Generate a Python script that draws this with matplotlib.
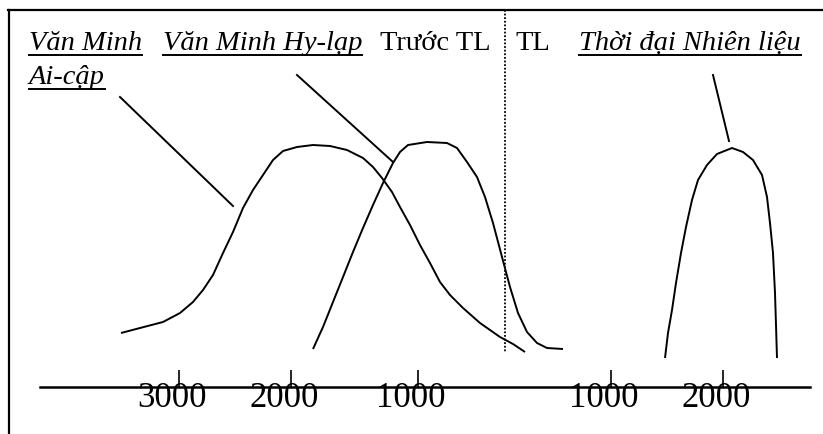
import matplotlib
matplotlib.use('Agg')
import matplotlib.pyplot as plt

plt.rcParams['font.family'] = ['Liberation Serif', 'DejaVu Serif']

# Đường cong (toạ độ trên hình vẽ tay, đơn vị pixel)
egypt_x = [121, 140, 163, 180, 193, 203, 213, 223, 233, 243, 253, 263, 273, 283, 297, 313,
           330, 347, 363, 373, 382, 392, 400, 410, 420, 430, 440, 450, 463, 480, 500, 513, 525]
egypt_y = [333, 328, 322, 313, 302, 290, 275, 253, 232, 208, 190, 175, 160, 151, 147, 145,
           146, 150, 158, 167, 178, 192, 207, 225, 245, 263, 282, 295, 308, 323, 337, 344, 352]

greek_x = [313, 323, 333, 343, 353, 363, 373, 383, 393, 400, 408, 427, 447, 457, 467, 477,
           485, 493, 502, 510, 518, 527, 537, 547, 563]
greek_y = [349, 327, 302, 277, 252, 228, 205, 183, 163, 152, 145, 142, 143, 148, 162, 177,
           197, 223, 257, 287, 313, 332, 343, 348, 349]

fuel_x = [665, 668, 672, 676, 681, 686, 692, 698, 707, 717, 732, 743, 753, 762, 767, 770,
          773, 775, 776, 777]
fuel_y = [358, 333, 310, 283, 253, 227, 200, 180, 165, 154, 148, 152, 160, 175, 197, 223,
          253, 293, 325, 358]

# Đường chỉ dẫn từ nhãn tới đường cong
leaders = [((120, 233), (97, 206)),
           ((297, 393), (75, 162)),
           ((713, 729), (75, 141))]

# Trục thời gian
tick_x = [179, 291, 418, 611, 723]
tick_labels = ['3000', '2000', '1000', '1000', '2000']
axis_y = 387
zero_x = 505

# Nhãn phía trên: (chữ, x, y, nghiêng/gạch chân)
titles = [('Văn Minh', 29, 50, True),
          ('Ai-cập', 29, 84, True),
          ('Văn Minh Hy-lạp', 163, 50, True),
          ('Trước TL', 380, 50, False),
          ('TL', 515, 50, False),
          ('Thời đại Nhiên liệu', 579, 50, True)]

fig = plt.figure(figsize=(8.23, 4.34), dpi=100)
ax = fig.add_axes([0, 0, 1, 1])
ax.set_xlim(0, 823)
ax.set_ylim(434, 0)
ax.axis('off')

# khung: cạnh trên và cạnh trái
ax.plot([8, 823], [10, 10], 'k-', lw=1.6)
ax.plot([9, 9], [10, 434], 'k-', lw=1.6)

# đường chấm: mốc TL
ax.plot([zero_x, zero_x], [10, 352], color='k', lw=1.3, ls=(0, (1, 1)))

for xs, ys in [(egypt_x, egypt_y), (greek_x, greek_y), (fuel_x, fuel_y)]:
    ax.plot(xs, ys, 'k-', lw=1.4, solid_joinstyle='round', solid_capstyle='butt')
for xs, ys in leaders:
    ax.plot(xs, ys, 'k-', lw=1.4)

# trục và vạch chia
ax.plot([40, 810], [axis_y, axis_y], 'k-', lw=1.8)
ax.vlines(tick_x, axis_y - 17, axis_y, color='k', lw=1.2)
for x, lab in zip(tick_x, tick_labels):
    ax.text(x - 7, 407, lab, ha='center', va='baseline', fontsize=25, zorder=1)

texts = []
for s, x, y, ital in titles:
    t = ax.text(x, y, s, ha='left', va='baseline', fontsize=20.5,
                style='italic' if ital else 'normal')
    texts.append((t, y, ital))

# gạch chân
fig.canvas.draw()
r = fig.canvas.get_renderer()
inv = ax.transData.inverted()
for t, y, ital in texts:
    if not ital:
        continue
    bb = t.get_window_extent(r)
    (x0, _), (x1, _) = inv.transform([(bb.x0, bb.y0), (bb.x1, bb.y1)])
    ax.plot([x0, x1], [y + 4.5, y + 4.5], 'k-', lw=1.4)

fig.savefig('out.png', dpi=100)
